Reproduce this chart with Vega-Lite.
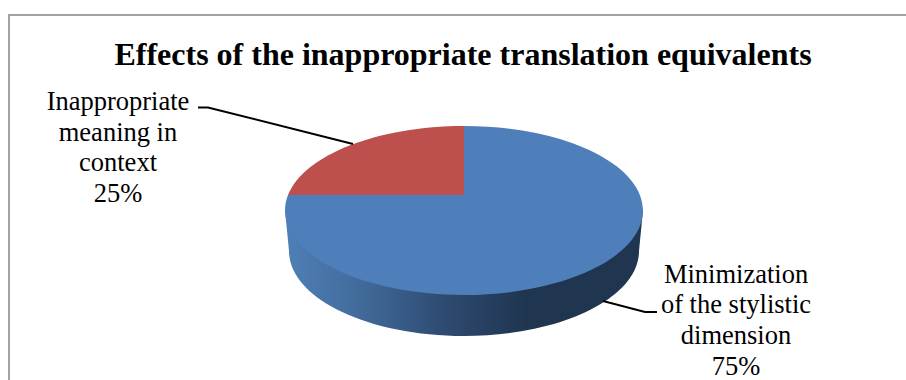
{
  "$schema": "https://vega.github.io/schema/vega-lite/v6.json",
  "width": 906,
  "height": 380,
  "padding": 0,
  "autosize": "none",
  "background": "white",
  "view": {"stroke": null},
  "title": {
    "text": "Effects of the inappropriate translation equivalents",
    "font": "Liberation Serif",
    "fontSize": 32,
    "fontWeight": "bold",
    "color": "#000000",
    "anchor": "middle",
    "frame": "group",
    "baseline": "alphabetic",
    "offset": -97,
    "dx": 10
  },
  "data": {
    "values": [
      {"category": "Minimization of the stylistic dimension", "lines": "Minimization\nof the stylistic\ndimension", "share": 75},
      {"category": "Inappropriate meaning in context", "lines": "Inappropriate\nmeaning in\ncontext", "share": 25}
    ]
  },
  "transform": [
    {"calculate": "datum.lines + '\\n' + datum.share + '%'", "as": "label"}
  ],
  "layer": [
    {
      "description": "Chart frame, open at the bottom",
      "mark": {
        "type": "point",
        "shape": "M-444,190 L-444,-175 L453,-175",
        "size": 4,
        "filled": false,
        "stroke": "#a3a3a3",
        "strokeWidth": 2,
        "opacity": 1
      },
      "transform": [{"filter": "datum.share === 75"}]
    },
    {
      "description": "Side wall of the tilted disc",
      "mark": {
        "type": "point",
        "shape": "M-168,20 L-164,61 A175,85 0 0 0 11,146 A175,85 0 0 0 186,61 L190,20 Z",
        "size": 4,
        "filled": true,
        "opacity": 1,
        "color": {
          "gradient": "linear",
          "x1": 0, "y1": 0, "x2": 1, "y2": 0,
          "stops": [
            {"offset": 0, "color": "#4f7fb8"},
            {"offset": 0.2, "color": "#426c9c"},
            {"offset": 0.45, "color": "#2e4a70"},
            {"offset": 0.68, "color": "#1f3550"},
            {"offset": 1, "color": "#1f3550"}
          ]
        }
      },
      "transform": [{"filter": "datum.share === 75"}]
    },
    {
      "description": "Top face sectors, one per category",
      "mark": {"type": "point", "size": 4, "filled": true, "opacity": 1},
      "encoding": {
        "shape": {
          "field": "category",
          "type": "nominal",
          "legend": null,
          "scale": {
            "domain": ["Minimization of the stylistic dimension", "Inappropriate meaning in context"],
            "range": [
              "M11,5 L11,-64 A179,84.5 0 0 1 190,20 A179,84.5 0 0 1 11,105 A179,84.5 0 0 1 -168,20 A179,84.5 0 0 1 -165,5 Z",
              "M11,5 L-165,5 A179,84.5 0 0 1 11,-64 Z"
            ]
          }
        },
        "color": {
          "field": "category",
          "type": "nominal",
          "legend": null,
          "scale": {
            "domain": ["Minimization of the stylistic dimension", "Inappropriate meaning in context"],
            "range": ["#4f7fba", "#bd4f4c"]
          }
        }
      }
    },
    {
      "description": "Leader line of the larger sector",
      "transform": [{"filter": "datum.share === 75"}],
      "mark": {"type": "point", "shape": "M150,111 L192,122 L204,122", "size": 4, "filled": false, "stroke": "#000000", "strokeWidth": 2, "opacity": 1}
    },
    {
      "description": "Leader line of the smaller sector",
      "transform": [{"filter": "datum.share === 25"}],
      "mark": {"type": "point", "shape": "M-255,-82.5 L-245,-82.5 L-100,-46", "size": 4, "filled": false, "stroke": "#000000", "strokeWidth": 2, "opacity": 1}
    },
    {
      "transform": [{"filter": "datum.share === 25"}],
      "mark": {
        "type": "text",
        "font": "Liberation Serif",
        "fontSize": 26.5,
        "lineHeight": 30.7,
        "align": "center",
        "baseline": "middle",
        "color": "#000000",
        "dx": -335,
        "dy": -88
      },
      "encoding": {"text": {"field": "label", "type": "nominal"}}
    },
    {
      "transform": [{"filter": "datum.share === 75"}],
      "mark": {
        "type": "text",
        "font": "Liberation Serif",
        "fontSize": 26.5,
        "lineHeight": 30.7,
        "align": "center",
        "baseline": "middle",
        "color": "#000000",
        "dx": 283,
        "dy": 84.5
      },
      "encoding": {"text": {"field": "label", "type": "nominal"}}
    }
  ],
  "config": {"text": {"lineBreak": "\n"}, "mark": {"lineBreak": "\n"}}
}
